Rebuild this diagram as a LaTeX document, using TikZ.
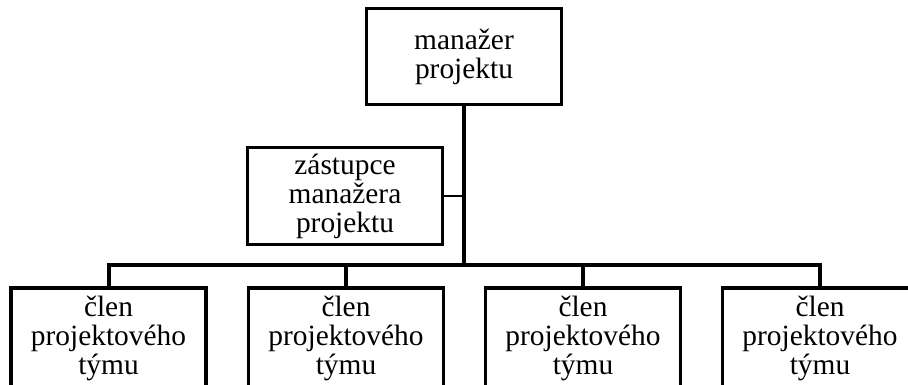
\documentclass[tikz,border=0pt]{standalone}
\usepackage{fontspec}
\setmainfont{Liberation Serif}

\begin{document}
\begin{tikzpicture}[x=1pt, y=-1pt,
		box/.style={rectangle, draw, line width=3.5pt, inner sep=0pt, align=center,
			minimum width=195pt, font=\fontsize{29.4}{29}\selectfont},
		trunk/.style={line width=4pt},
		link/.style={line width=2.6pt}]
		\useasboundingbox (0,0) rectangle (908,385);
		\clip (0,0) rectangle (908,385);

		% Manager and deputy
		\node[box, minimum height=96pt] (manazer) at (464,56.5) {manažer\\projektu};
		\node[box, minimum height=97pt] (zastupce) at (345,196) {zástupce\\manažera\\projektu};

		% Team members
		\node[box, minimum height=100pt] (clen1) at (108.5,338) {člen\\projektového\\týmu};
		\node[box, minimum height=100pt] (clen2) at (346,338) {člen\\projektového\\týmu};
		\node[box, minimum height=100pt] (clen3) at (583,338) {člen\\projektového\\týmu};
		\node[box, minimum height=100pt] (clen4) at (820,338) {člen\\projektového\\týmu};

		% Reporting lines
		\coordinate (hub) at (464,265);
		\draw[trunk] (manazer.south) -- (hub);
		\draw[link] (zastupce.east) -- (manazer.south |- zastupce.east);
		\draw[trunk] (clen1.north) |- (hub) -| (clen4.north);
		\draw[trunk] (clen2.north) -- (clen2.north |- hub);
		\draw[trunk] (clen3.north) -- (clen3.north |- hub);
	\end{tikzpicture}
\end{document}
